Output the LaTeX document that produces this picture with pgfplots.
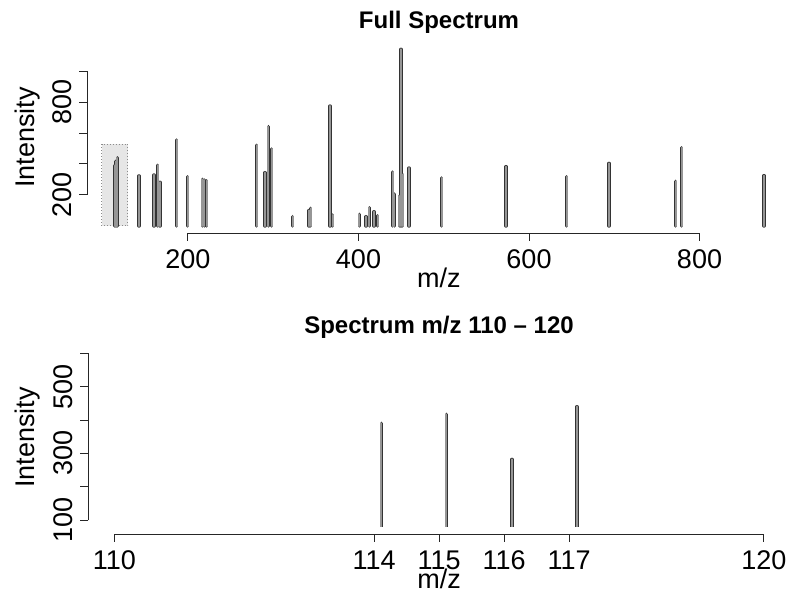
\documentclass[border=0pt]{standalone}
\usepackage{fontspec}
\setmainfont{Liberation Sans}
\usepackage{pgfplots}
\pgfplotsset{compat=1.18}
\definecolor{barfill}{RGB}{150,150,150}
\definecolor{boxfill}{RGB}{230,230,230}

\tikzset{
  ax/.style={black!85, line width=0.5pt},
  spec/.style={ycomb, draw=black!80, double=barfill, double distance=1.1pt,
    line width=0.3pt, line cap=round},
}

\begin{document}
\begin{tikzpicture}[font=\fontsize{13.5}{16}\selectfont]
\useasboundingbox (0,0) rectangle (393pt,-298.5pt);

% titles
\node[anchor=base, font=\fontsize{12}{14}\selectfont\bfseries] at (219.5pt,-14.5pt) {Full Spectrum};
\node[anchor=base, font=\fontsize{12}{14}\selectfont\bfseries] at (219.5pt,-167pt) {Spectrum m/z 110 – 120};

% ---- full spectrum ----
\begin{axis}[
  at={(43.7pt,-116.53pt)}, anchor=south west,
  width=349.1pt, height=95.4pt, scale only axis,
  xmin=82, xmax=901, ymin=-45.6, ymax=1185.6,
  hide axis,
  after end axis/.code={
    \draw[ax] (axis cs:200,-45.6) -- (axis cs:800,-45.6);
    \foreach \t in {200,400,600,800} {
      \draw[ax] (axis cs:\t,-45.6) -- ++(0,-4pt);
      \node[anchor=base, inner sep=0pt] at ([yshift=-17.7pt]axis cs:\t,-45.6) {\t};
    }
    \draw[ax] (axis cs:82,200) -- (axis cs:82,1000);
    \foreach \t in {200,400,600,800,1000} {
      \draw[ax] (axis cs:82,\t) -- ++(-4pt,0);
    }
    \foreach \t in {200,800} {
      \node[rotate=90, anchor=south, inner sep=0pt] at ([xshift=-7.7pt]axis cs:82,\t) {\t};
    }
    \node[rotate=90, anchor=base, inner sep=0pt] at ([xshift=-26.7pt]axis cs:82,570) {Intensity};
    \node[anchor=base, inner sep=0pt] at ([yshift=-27.3pt]axis cs:494.4,-45.6) {m/z};
  },
]
% zoom window
\addplot[fill=boxfill, draw=black!45, densely dotted, line width=0.5pt]
  coordinates {(98.8,0) (98.8,529) (129.2,529) (129.2,0)} --cycle;

\addplot[spec] coordinates {
  (114.1,390) (115.1,417) (116.1,282) (117.1,440)
  (142.5,323) (160.1,329) (164.4,392) (167.2,282)
  (186.7,555) (199.6,318) (216.8,301) (219.1,297) (221.9,292)
  (280.6,521) (290.3,344) (294.2,641) (298.2,497)
  (322.8,60) (342.0,100) (343.9,114) (366.6,774) (369.7,71)
  (401.0,75) (408.8,60) (412.7,118) (418.2,92) (422.5,66)
  (440.1,348) (442.0,206) (447.9,194) (449.9,1140) (451.9,333)
  (459.2,374) (497.6,310) (573.0,383) (644.2,318) (693.8,404)
  (772.0,288) (779.0,505) (875.7,325)
};
\end{axis}

% ---- zoomed spectrum ----
\begin{axis}[
  at={(44.15pt,-263.35pt)}, anchor=south west,
  width=348.85pt, height=92.83pt, scale only axis,
  xmin=109.6, xmax=120.339, ymin=80, ymax=637,
  hide axis,
  after end axis/.code={
    \draw[ax] (axis cs:110,58) -- (axis cs:120,58);
    \foreach \t in {110,114,115,116,117,120} {
      \draw[ax] (axis cs:\t,58) -- ++(0,-4pt);
      \node[anchor=base, inner sep=0pt] at ([yshift=-17.7pt]axis cs:\t,58) {\t};
    }
    \draw[ax] (axis cs:109.6,100) -- (axis cs:109.6,600);
    \foreach \t in {100,200,300,400,500,600} {
      \draw[ax] (axis cs:109.6,\t) -- ++(-4pt,0);
    }
    \foreach \t in {100,300,500} {
      \node[rotate=90, anchor=south, inner sep=0pt] at ([xshift=-7.7pt]axis cs:109.6,\t) {\t};
    }
    \node[rotate=90, anchor=base, inner sep=0pt] at ([xshift=-27.1pt]axis cs:109.6,347.5) {Intensity};
    \node[anchor=base, inner sep=0pt] at ([yshift=-27.3pt]axis cs:115.0,58) {m/z};
  },
]
\addplot[spec] coordinates {
  (114.11,390) (115.11,417) (116.12,282) (117.12,440)
};
\end{axis}
\end{tikzpicture}
\end{document}
